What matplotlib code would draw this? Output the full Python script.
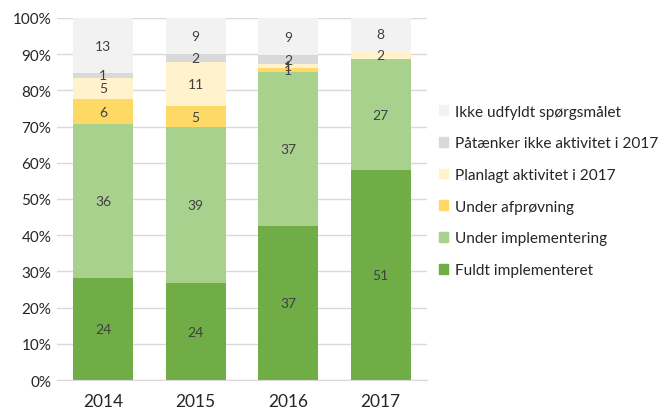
import numpy as np
import matplotlib
matplotlib.use("Agg")
import matplotlib.pyplot as plt
from matplotlib.patches import Patch

plt.rcParams["font.family"] = ["Lato", "DejaVu Sans"]

years = ["2014", "2015", "2016", "2017"]
categories = [
    "Fuldt implementeret",
    "Under implementering",
    "Under afprøvning",
    "Planlagt aktivitet i 2017",
    "Påtænker ikke aktivitet i 2017",
    "Ikke udfyldt spørgsmålet",
]
colors = ["#70AD47", "#A9D18E", "#FFD966", "#FFF2CC", "#D9D9D9", "#F2F2F2"]

fuldt = [24, 24, 37, 51]
under_impl = [36, 39, 37, 27]
under_afpr = [6, 5, 1, 0]
planlagt = [5, 11, 1, 2]
paataenker = [1, 2, 2, 0]
ikke_udfyldt = [13, 9, 9, 8]

counts = np.array([fuldt, under_impl, under_afpr, planlagt, paataenker, ikke_udfyldt], dtype=float)
shares = counts / counts.sum(axis=0) * 100

fig = plt.figure(figsize=(6.6, 4.1), dpi=100)
ax = fig.add_axes([0.086, 0.0707, 0.561, 0.883])

x = np.arange(len(years))
bottom = np.zeros(len(years))
for i, cat in enumerate(categories):
    ax.bar(x, shares[i], bottom=bottom, width=0.65, color=colors[i], zorder=2)
    for j in range(len(years)):
        if counts[i, j] > 0:
            ax.text(x[j], bottom[j] + shares[i, j] / 2, f"{int(counts[i, j])}",
                    ha="center", va="center", fontsize=10, color="#404040", zorder=3)
    bottom += shares[i]

ax.set_xlim(-0.5, 3.5)
ax.set_ylim(0, 100)
ax.set_yticks(np.arange(0, 101, 10))
ax.set_yticklabels([f"{v}%" for v in range(0, 101, 10)], fontsize=11, color="#262626")
ax.set_xticks(x)
ax.set_xticklabels(years, fontsize=12.5, color="#262626")
ax.tick_params(axis="x", length=0, pad=9)
ax.tick_params(axis="y", length=0, pad=4)
ax.yaxis.grid(True, color="#D9D9D9", linewidth=1, zorder=0)
ax.set_axisbelow(True)
for s in ["top", "right", "left"]:
    ax.spines[s].set_visible(False)
ax.spines["bottom"].set_color("#D9D9D9")

handles = [Patch(color=c, label=l) for c, l in zip(colors, categories)]
leg = fig.legend(handles=handles[::-1], loc="center left", bbox_to_anchor=(0.665, 0.532),
                 frameon=False, fontsize=11.1, labelspacing=1.15, handlelength=0.6,
                 handleheight=0.6, handletextpad=0.45, borderpad=0, borderaxespad=0,
                 labelcolor="#262626")

fig.savefig("out.png", dpi=100)
